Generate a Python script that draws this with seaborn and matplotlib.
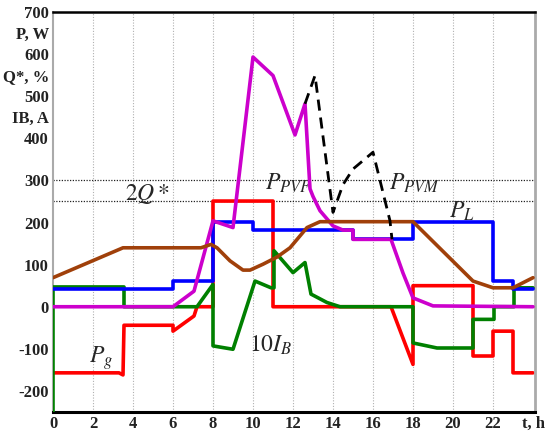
import numpy as np
import pandas as pd
import matplotlib
matplotlib.use("Agg")
import matplotlib.pyplot as plt
import seaborn as sns

sns.set_theme(style="white")
plt.rcParams['font.family'] = ['Liberation Serif', 'DejaVu Serif']
plt.rcParams['mathtext.fontset'] = 'stix'

# ---- data ----
pl_t = [0, 6, 6, 8, 8, 10, 10, 15, 15, 18, 18, 22, 22, 23, 23, 24]
pl_v = [42, 42, 60, 60, 201, 201, 182, 182, 160, 160, 201, 201, 60, 60, 42, 42]

pvf_t = [0, 6, 7.05, 8, 9, 10, 11, 12.1, 12.6, 12.85, 13.0, 13.35, 14.0, 14.5, 15, 15, 16.9, 17.5, 18, 19, 24]
pvf_v = [0, 0, 37, 204, 188, 593, 549, 408, 482, 280, 262, 228, 192, 182, 182, 160, 160, 80, 21, 2, 0]

pvm_t = [12.6, 13.1, 14.0, 14.5, 15.0, 16.0, 16.85, 16.95]
pvm_v = [482, 549, 224, 290, 327, 367, 204, 160]

pg_t = [0, 3.3, 3.5, 3.55, 6, 6, 7.05, 7.2, 8, 8, 11, 11, 16.9, 18, 18, 21, 21, 22, 22, 23, 23, 24]
pg_v = [-157, -157, -162, -44, -44, -58, -22, 0, 0, 251, 251, 0, 0, -137, 50, 50, -117, -117, -58, -58, -157, -157]

ib_t = [0, 0, 3.55, 3.55, 7.2, 8, 8, 9, 10.1, 10.9, 11.05, 11.05, 12, 12.6, 12.9, 13.7, 14.35, 18, 18, 19.2, 21, 21, 22.05, 22.05, 23.05, 23.05, 24]
ib_v = [-250, 47, 47, 0, 0, 53, -93, -101, 61, 45, 45, 133, 81, 105, 30, 10, 0, 0, -86, -98, -98, -30, -30, 0, 0, 45, 45]

q_t = [0, 3.5, 7.4, 7.9, 8.2, 8.85, 9.5, 9.85, 10.5, 11.2, 11.85, 12.7, 13.35, 14, 18, 21, 22, 23, 24]
q_v = [69, 140, 140, 148, 140, 109, 87, 87, 101, 118, 140, 188, 202, 202, 202, 61, 45, 45, 69]

x_ticks = [0, 2, 4, 6, 8, 10, 12, 14, 16, 18, 20, 22, 24]
x_labels = ['0', '2', '4', '6', '8', '10', '12', '14', '16', '18', '20', '22', 't, h']
y_ticks = [-200, -100, 0, 100, 200, 300, 400, 450, 500, 550, 600, 650, 700]
y_labels = ['-200', '-100', '0', '100', '200', '300', '400', 'IB, A', '500', 'Q*, %', '600', 'P, W', '700']

fig = plt.figure(figsize=(5.47, 4.34), dpi=100)
ax = fig.add_axes([53/547, 1-412/434, (535-53)/547, 400/434])

for x in range(2, 24, 2):
    ax.axvline(x, color='#b0b0b0', lw=0.8, ls=(0, (1, 1.5)), zorder=0)
for y in (250, 300):
    ax.axhline(y, color='#222222', lw=0.9, ls=(0, (1, 1.2)), zorder=0)

def draw(t, v, color, lw=2.6, ls='-', z=3):
    df = pd.DataFrame({'t': t, 'v': v})
    sns.lineplot(data=df, x='t', y='v', ax=ax, sort=False, estimator=None,
                 color=color, lw=lw, linestyle=ls, zorder=z)

draw(pg_t, pg_v, '#ff0000', z=2)
draw(ib_t, ib_v, '#008000', z=3)
draw(pvf_t, pvf_v, '#cc00cc', z=4)
draw(pl_t, pl_v, '#0000ff', z=3)
draw(q_t, q_v, '#a0400a', z=5)
draw(pvm_t, pvm_v, '#000000', lw=2.0, ls=(0, (4, 2.5)), z=6)

ax.set_xlim(0, 24.1)
ax.set_ylim(-250, 700)
ax.set_xticks(x_ticks)
ax.set_xticklabels(x_labels)
ax.set_yticks(y_ticks)
ax.set_yticklabels(y_labels)
ax.set_xlabel('')
ax.set_ylabel('')
ax.tick_params(length=0, pad=3)
for lab in ax.get_xticklabels() + ax.get_yticklabels():
    lab.set_fontweight('bold')
    lab.set_fontsize(12)
    lab.set_color('#222222')

ax.spines['top'].set_color('black'); ax.spines['top'].set_linewidth(1.8)
ax.spines['bottom'].set_color('black'); ax.spines['bottom'].set_linewidth(2.2)
ax.spines['left'].set_color('#aaaaaa'); ax.spines['left'].set_linewidth(1.5)
ax.spines['right'].set_color('#aaaaaa'); ax.spines['right'].set_linewidth(2.0)

fs = 17
ax.text(10.6, 292, r'$P_{PVF}$', fontsize=fs, ha='left', va='center')
ax.text(16.8, 292, r'$P_{PVM}$', fontsize=fs, ha='left', va='center')
ax.text(19.8, 226, r'$P_L$', fontsize=fs, ha='left', va='center')
ax.text(3.6, 268, r'$2Q*$', fontsize=fs, ha='left', va='center')
ax.text(9.8, -92, r'$10I_B$', fontsize=fs, ha='left', va='center')
ax.text(1.8, -122, r'$P_g$', fontsize=fs, ha='left', va='center')

fig.savefig('out.png', dpi=100)
